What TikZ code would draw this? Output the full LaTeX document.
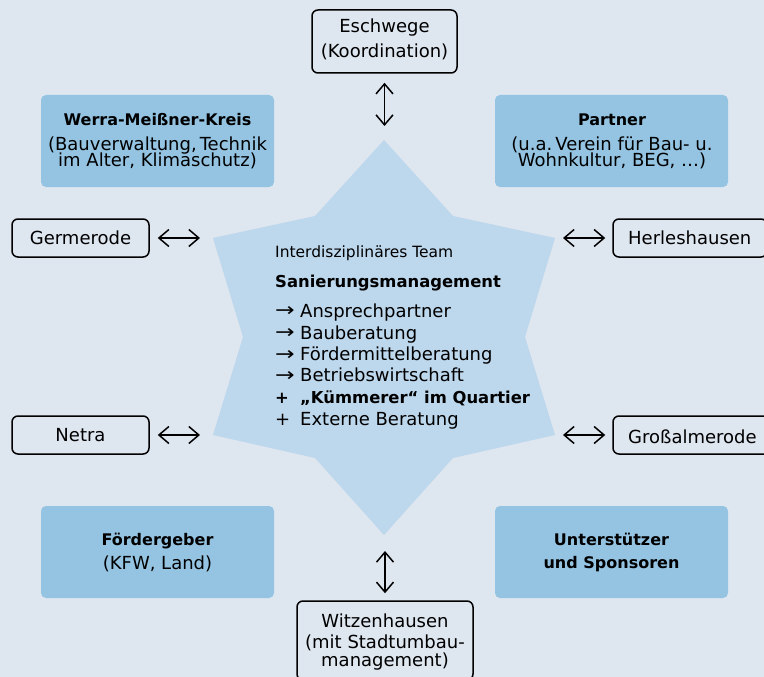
\documentclass[tikz,border=0pt]{standalone}
\usepackage{fontspec}
\setmainfont{DejaVu Sans}
\usetikzlibrary{arrows.meta}
\definecolor{bgc}{RGB}{222,230,240}
\definecolor{starc}{RGB}{189,215,236}
\definecolor{boxc}{RGB}{148,196,226}
\newcommand{\listarrow}{\makebox[25pt][l]{\raisebox{0.5pt}{\scalebox{1.3}[1.05]{→}}}}
\newcommand{\listplus}{\makebox[25pt][l]{+}}
\begin{document}
\begin{tikzpicture}[x=1pt,y=-1pt,
  placebox/.style={draw=black, line width=1.5pt, rounded corners=6pt, inner sep=0pt},
  bluebox/.style={fill=boxc, rounded corners=5pt, inner sep=0pt},
  txt/.style={anchor=base, inner sep=0pt, font=\fontsize{18}{18}\selectfont},
  btxt/.style={anchor=base, inner sep=0pt, font=\fontsize{16}{16}\selectfont\bfseries},
  ltxt/.style={anchor=base west, inner sep=0pt, font=\fontsize{18}{18}\selectfont},
  lbtxt/.style={anchor=base west, inner sep=0pt, font=\fontsize{16.4}{16}\selectfont\bfseries},
  dbl/.style={line width=1.5pt, {Straight Barb[length=10pt,width=17pt]}-{Straight Barb[length=10pt,width=17pt]}}]
\fill[bgc] (0,0) rectangle (764,677);
\useasboundingbox (0,0) rectangle (764,677);

% star
\coordinate (sT) at (384,140);
\coordinate (sUR) at (555,238);
\coordinate (sLR) at (555,435);
\coordinate (sB) at (384,535);
\coordinate (sLL) at (213,435);
\coordinate (sUL) at (213,238);
\fill[starc] (sT) -- (453,216) -- (sUR) -- (525,337) -- (sLR) -- (453,458) -- (sB)
  -- (315,458) -- (sLL) -- (243,337) -- (sUL) -- (315,216) -- cycle;

% blue boxes
\node[bluebox, minimum width=233pt, minimum height=92pt] (wmk) at (157.5,141) {};
\node[bluebox, minimum width=233pt, minimum height=92pt] (partner) at (611.5,141) {};
\node[bluebox, minimum width=233pt, minimum height=92pt] (foerder) at (157.5,552) {};
\node[bluebox, minimum width=233pt, minimum height=92pt] (unter) at (611.5,552) {};

\node[btxt] (wmk1) at (157.5,125) {Werra-Meißner-Kreis};
\node[txt] (wmk2) at (157.5,150) {(Bauverwaltung,\,Technik};
\node[txt] (wmk3) at (157.5,166.7) {im Alter, Klimaschutz)};

\node[btxt] (partner1) at (612,125) {Partner};
\node[txt] (partner2) at (612,150) {(u.a.\,Verein für Bau- u.};
\node[txt] (partner3) at (612,166.7) {Wohnkultur, BEG, …)};

\node[btxt] (foerder1) at (157.5,545) {Fördergeber};
\node[txt] (foerder2) at (157.5,569) {(KFW, Land)};

\node[btxt] (unter1) at (611.5,545) {Unterstützer};
\node[btxt] (unter2) at (611.5,568) {und Sponsoren};

% place boxes
\node[placebox, minimum width=145pt, minimum height=63pt] (esch) at (384.5,41.5) {};
\node[txt] (esch1) at (384.5,33) {Eschwege};
\node[txt] (esch2) at (384.5,57.5) {(Koordination)};

\node[placebox, minimum width=137pt, minimum height=38pt] (germ) at (80.5,238) {};
\node[txt] (germ1) at (80.5,244) {Germerode};

\node[placebox, minimum width=137pt, minimum height=38pt] (netra) at (80.5,435) {};
\node[txt] (netra1) at (80.5,441) {Netra};

\node[placebox, minimum width=154pt, minimum height=38pt] (herl) at (690,238) {};
\node[ltxt] (herl1) at (628,244) {Herleshausen};

\node[placebox, minimum width=164pt, minimum height=38pt] (gross) at (695,435) {};
\node[ltxt] (gross1) at (628,443) {Großalmerode};

\node[placebox, minimum width=176pt, minimum height=79pt] (witz) at (385,640.5) {};
\node[txt] (witz1) at (385,627) {Witzenhausen};
\node[txt] (witz2) at (385,648) {(mit Stadtumbau-};
\node[txt] (witz3) at (385,666) {management)};

% centre text
\node[anchor=base west, inner sep=0pt, font=\fontsize{15.5}{15}\selectfont] (team) at (275,257.3) {Interdisziplinäres Team};
\node[lbtxt] (sanm) at (275,287.3) {Sanierungsmanagement};
\node[ltxt] (l1) at (275,317.3) {\listarrow Ansprechpartner};
\node[ltxt] (l2) at (275,339.3) {\listarrow Bauberatung};
\node[ltxt] (l3) at (275,360.7) {\listarrow Fördermittelberatung};
\node[ltxt] (l4) at (275,381.7) {\listarrow Betriebswirtschaft};
\node[lbtxt] (l5) at (275,403.3) {\listplus „Kümmerer“ im Quartier};
\node[ltxt] (l6) at (275,425) {\listplus Externe Beratung};

% connectors
\draw[dbl, shorten <=8pt, shorten >=13pt] (germ.east) -- (sUL);
\draw[dbl, shorten <=8pt, shorten >=13pt] (netra.east) -- (sLL);
\draw[dbl, shorten <=8pt, shorten >=7pt] (sUR) -- (herl.west);
\draw[dbl, shorten <=8pt, shorten >=7pt] (sLR) -- (gross.west);
\draw[dbl, shorten <=9pt, shorten >=14pt] (esch.south) -- (esch.south |- sT);
\draw[dbl, shorten <=16pt, shorten >=7pt] (witz.north |- sB) -- (witz.north);
\end{tikzpicture}
\end{document}
